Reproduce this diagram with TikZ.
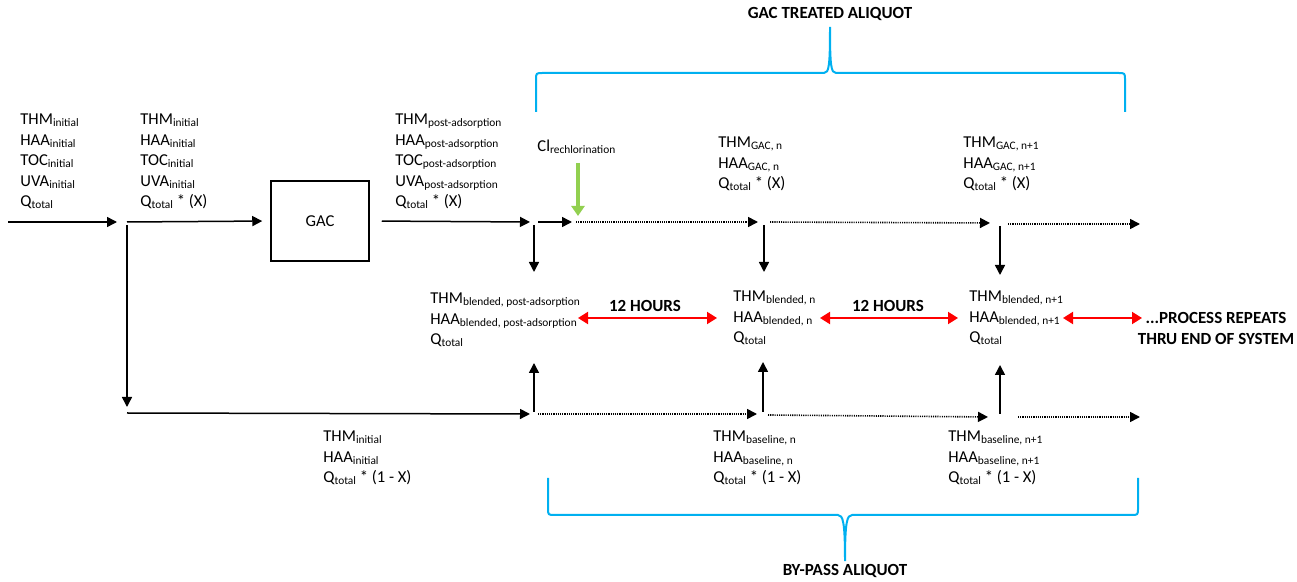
\documentclass[tikz,border=0pt]{standalone}
\usepackage{fontspec}
\setmainfont{Carlito}
\usetikzlibrary{arrows.meta}
\definecolor{bracecol}{HTML}{00B0F0}
\definecolor{greenarr}{HTML}{92D050}
\newcommand\subt[1]{\raisebox{-1pt}{\fontsize{5.7pt}{6pt}\selectfont #1}}
\begin{document}
\begin{tikzpicture}[x=0.5pt,y=-0.5pt,
  txt/.style={anchor=west, inner sep=0pt, align=left, font=\fontsize{8.3pt}{10.3pt}\selectfont},
  lbl/.style={inner sep=0pt, align=center, font=\fontsize{8.5pt}{10.5pt}\selectfont\bfseries},
  flow/.style={line width=0.75pt, -{Triangle[length=5pt,width=5pt]}},
  dotflow/.style={line width=0.8pt, dash pattern=on 0.55pt off 0.55pt, -{Triangle[length=5pt,width=5pt]}},
  redarr/.style={red, line width=1pt, {Triangle[length=5pt,width=6pt]}-{Triangle[length=5pt,width=6pt]}},
  greenflow/.style={greenarr, line width=1.6pt, -{Triangle[length=5pt,width=6.5pt]}},
  brace/.style={bracecol, line width=1pt}]
\useasboundingbox (0,0) rectangle (1297,582);

% ---------- text blocks ----------
\node[txt] (in1) at (20,161.5) {THM\subt{initial}\\HAA\subt{initial}\\TOC\subt{initial}\\UVA\subt{initial}\\Q\subt{total}};
\node[txt] (in2) at (140,161.5) {THM\subt{initial}\\HAA\subt{initial}\\TOC\subt{initial}\\UVA\subt{initial}\\Q\subt{total} * (X)};
\node[draw, line width=0.75pt, minimum width=49pt, minimum height=40pt, inner sep=0pt, font=\fontsize{8.3pt}{10pt}\selectfont] (gac) at (320,221) {GAC};
\node[txt] (post) at (395,161.5) {THM\subt{post-adsorption}\\HAA\subt{post-adsorption}\\TOC\subt{post-adsorption}\\UVA\subt{post-adsorption}\\Q\subt{total} * (X)};
\node[txt] (cl) at (537,147) {Cl\subt{rechlorination}};
\node[txt] (gacn) at (718,164) {THM\subt{GAC, n}\\HAA\subt{GAC, n}\\Q\subt{total} * (X)};
\node[txt] (gacn1) at (963,164) {THM\subt{GAC, n+1}\\HAA\subt{GAC, n+1}\\Q\subt{total} * (X)};
\node[txt] (blA) at (430,320) {THM\subt{blended, post-adsorption}\\HAA\subt{blended, post-adsorption}\\Q\subt{total}};
\node[txt] (blB) at (733,318) {THM\subt{blended, n}\\HAA\subt{blended, n}\\Q\subt{total}};
\node[txt] (blC) at (969,318) {THM\subt{blended, n+1}\\HAA\subt{blended, n+1}\\Q\subt{total}};
\node[txt] (byp) at (323,458) {THM\subt{initial}\\HAA\subt{initial}\\Q\subt{total} * (1 - X)};
\node[txt] (basen) at (713,458) {THM\subt{baseline, n}\\HAA\subt{baseline, n}\\Q\subt{total} * (1 - X)};
\node[txt] (basen1) at (948,458) {THM\subt{baseline, n+1}\\HAA\subt{baseline, n+1}\\Q\subt{total} * (1 - X)};

\node[lbl] (h1) at (645,306) {12 HOURS};
\node[lbl] (h2) at (888,306) {12 HOURS};
\node[lbl] (rep) at (1216,328) {...PROCESS REPEATS\\THRU END OF SYSTEM};
\node[lbl] (gtl) at (830,14) {GAC TREATED ALIQUOT};
\node[lbl] (bpl) at (845,571) {BY-PASS ALIQUOT};

% ---------- coordinates ----------
\coordinate (s0) at (8,222);
\coordinate (e0) at (117,222);
\coordinate (j1) at (127,222);
\coordinate (v1a) at (127,225);
\coordinate (v1b) at (127,407);
\coordinate (b0) at (127,413);
\coordinate (b1) at (530,414);
\coordinate (e3) at (530,222);
\coordinate (v2a) at (534,225);
\coordinate (v2b) at (534,272);
\coordinate (sh0) at (538,222);
\coordinate (sh1) at (572,222);
\coordinate (g0) at (578,163);
\coordinate (g1) at (578,216);
\coordinate (d1a) at (576,222);
\coordinate (d1b) at (758,222);
\coordinate (v3a) at (764,225);
\coordinate (v3b) at (764,272);
\coordinate (d2a) at (770,222);
\coordinate (d2b) at (990,223);
\coordinate (v4a) at (1000,226);
\coordinate (v4b) at (1000,275);
\coordinate (d3a) at (1008,224);
\coordinate (d3b) at (1140,224);
% bottom
\coordinate (u1a) at (534,412);
\coordinate (u1b) at (534,363);
\coordinate (bd1a) at (538,414);
\coordinate (bd1b) at (757,414);
\coordinate (u2a) at (763,412);
\coordinate (u2b) at (763,362);
\coordinate (bd2a) at (768,415);
\coordinate (bd2b) at (988,417);
\coordinate (u3a) at (1000,414);
\coordinate (u3b) at (1000,365);
\coordinate (bd3a) at (1018,417);
\coordinate (bd3b) at (1140,417);
% red
\coordinate (r1a) at (578,318);
\coordinate (r1b) at (717,318);
\coordinate (r2a) at (820,318);
\coordinate (r2b) at (958,318);
\coordinate (r3a) at (1063,318);
\coordinate (r3b) at (1142,318);

% ---------- connectors ----------
\draw[flow] (s0) -- (e0);
\draw[flow, shorten >=4pt] (j1) -- (gac.west);
\draw[flow] (v1a) -- (v1b);
\draw[flow] (b0) -- (b1);
\draw[flow, shorten <=6pt] (gac.east) -- (e3);
\draw[flow] (v2a) -- (v2b);
\draw[flow] (sh0) -- (sh1);
\draw[greenflow] (g0) -- (g1);
\draw[dotflow] (d1a) -- (d1b);
\draw[flow] (v3a) -- (v3b);
\draw[dotflow] (d2a) -- (d2b);
\draw[flow] (v4a) -- (v4b);
\draw[dotflow] (d3a) -- (d3b);

\draw[flow] (u1a) -- (u1b);
\draw[dotflow] (bd1a) -- (bd1b);
\draw[flow] (u2a) -- (u2b);
\draw[dotflow] (bd2a) -- (bd2b);
\draw[flow] (u3a) -- (u3b);
\draw[dotflow] (bd3a) -- (bd3b);

\draw[redarr] (r1a) -- (r1b);
\draw[redarr] (r2a) -- (r2b);
\draw[redarr] (r3a) -- (r3b);

% ---------- braces ----------
\coordinate (tb) at (830,27);
\draw[brace] (536,112) -- (536,80) .. controls (536,73) .. (543,73) -- (824,73)
  .. controls (829,73) and (830,66) .. (tb)
  .. controls (830,66) and (831,73) .. (836,73) -- (1118,73)
  .. controls (1125,73) .. (1125,80) -- (1125,112);
\coordinate (bb) at (845,561);
\draw[brace] (548,478) -- (548,508) .. controls (548,515) .. (555,515) -- (838,515)
  .. controls (843,515) and (845,522) .. (bb)
  .. controls (845,522) and (847,515) .. (852,515) -- (1131,515)
  .. controls (1138,515) .. (1138,508) -- (1138,478);
\end{tikzpicture}
\end{document}
